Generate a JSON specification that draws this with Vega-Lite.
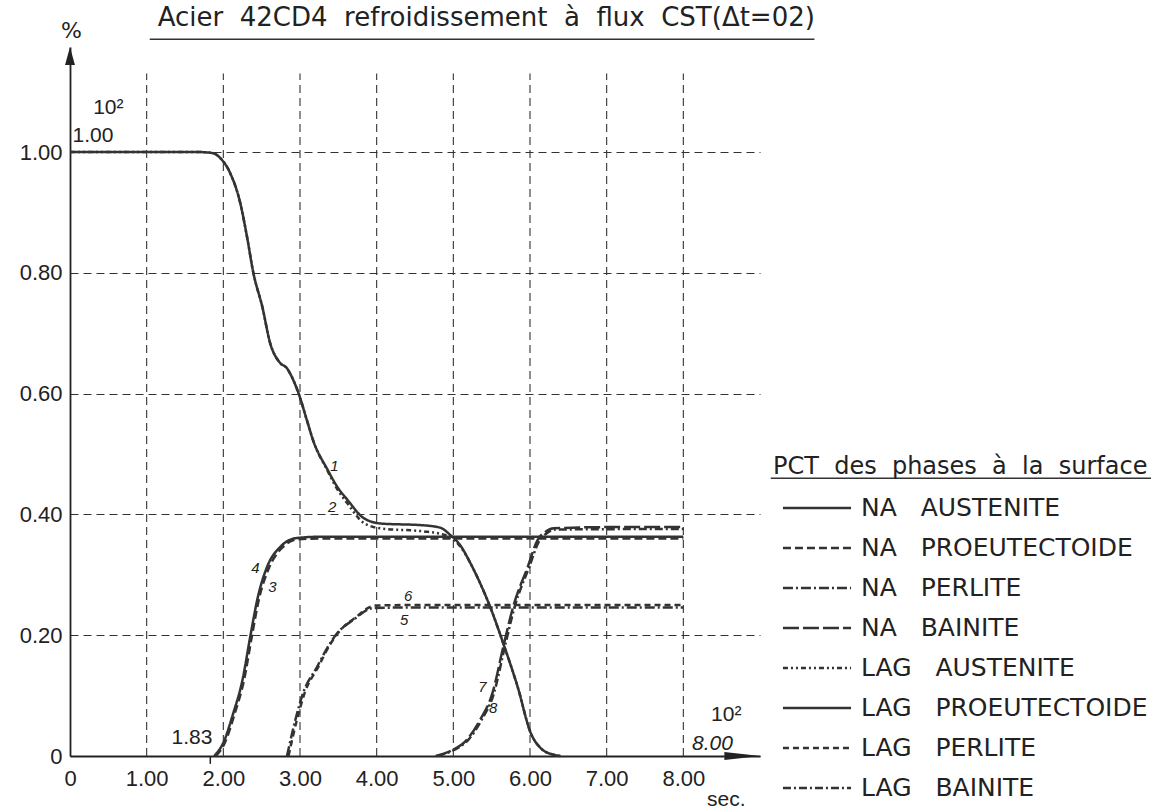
{
  "$schema": "https://vega.github.io/schema/vega-lite/v6.json",
  "width": 690,
  "height": 709,
  "autosize": {"type": "none"},
  "padding": {"left": 70, "top": 47, "right": 405, "bottom": 55},
  "background": "white",
  "config": {
    "view": {"stroke": null},
    "font": "Liberation Sans",
    "text": {"color": "#222"}
  },
  "datasets": {
    "curves": [
      {"series": "NA AUSTENITE", "t": 0, "p": 1.0},
      {"series": "NA AUSTENITE", "t": 1.0, "p": 1.0},
      {"series": "NA AUSTENITE", "t": 1.7, "p": 1.0},
      {"series": "NA AUSTENITE", "t": 1.87, "p": 0.998},
      {"series": "NA AUSTENITE", "t": 1.96, "p": 0.99},
      {"series": "NA AUSTENITE", "t": 2.09, "p": 0.965},
      {"series": "NA AUSTENITE", "t": 2.22, "p": 0.916},
      {"series": "NA AUSTENITE", "t": 2.31, "p": 0.859},
      {"series": "NA AUSTENITE", "t": 2.39, "p": 0.801},
      {"series": "NA AUSTENITE", "t": 2.51, "p": 0.743},
      {"series": "NA AUSTENITE", "t": 2.61, "p": 0.684},
      {"series": "NA AUSTENITE", "t": 2.74, "p": 0.651},
      {"series": "NA AUSTENITE", "t": 2.83, "p": 0.642},
      {"series": "NA AUSTENITE", "t": 2.9, "p": 0.626},
      {"series": "NA AUSTENITE", "t": 2.98, "p": 0.601},
      {"series": "NA AUSTENITE", "t": 3.09, "p": 0.556},
      {"series": "NA AUSTENITE", "t": 3.17, "p": 0.523},
      {"series": "NA AUSTENITE", "t": 3.36, "p": 0.474},
      {"series": "NA AUSTENITE", "t": 3.49, "p": 0.445},
      {"series": "NA AUSTENITE", "t": 3.62, "p": 0.424},
      {"series": "NA AUSTENITE", "t": 3.83, "p": 0.394},
      {"series": "NA AUSTENITE", "t": 4.05, "p": 0.385},
      {"series": "NA AUSTENITE", "t": 4.61, "p": 0.382},
      {"series": "NA AUSTENITE", "t": 4.83, "p": 0.378},
      {"series": "NA AUSTENITE", "t": 4.96, "p": 0.366},
      {"series": "NA AUSTENITE", "t": 5.09, "p": 0.349},
      {"series": "NA AUSTENITE", "t": 5.22, "p": 0.32},
      {"series": "NA AUSTENITE", "t": 5.35, "p": 0.286},
      {"series": "NA AUSTENITE", "t": 5.48, "p": 0.247},
      {"series": "NA AUSTENITE", "t": 5.65, "p": 0.187},
      {"series": "NA AUSTENITE", "t": 5.84, "p": 0.114},
      {"series": "NA AUSTENITE", "t": 6.01, "p": 0.038},
      {"series": "NA AUSTENITE", "t": 6.14, "p": 0.013},
      {"series": "NA AUSTENITE", "t": 6.31, "p": 0.002},
      {"series": "NA AUSTENITE", "t": 6.4, "p": 0},

      {"series": "LAG AUSTENITE", "t": 0, "p": 1.0},
      {"series": "LAG AUSTENITE", "t": 1.0, "p": 1.0},
      {"series": "LAG AUSTENITE", "t": 1.7, "p": 1.0},
      {"series": "LAG AUSTENITE", "t": 1.87, "p": 0.998},
      {"series": "LAG AUSTENITE", "t": 1.96, "p": 0.99},
      {"series": "LAG AUSTENITE", "t": 2.09, "p": 0.965},
      {"series": "LAG AUSTENITE", "t": 2.22, "p": 0.916},
      {"series": "LAG AUSTENITE", "t": 2.31, "p": 0.859},
      {"series": "LAG AUSTENITE", "t": 2.39, "p": 0.801},
      {"series": "LAG AUSTENITE", "t": 2.51, "p": 0.743},
      {"series": "LAG AUSTENITE", "t": 2.61, "p": 0.684},
      {"series": "LAG AUSTENITE", "t": 2.74, "p": 0.651},
      {"series": "LAG AUSTENITE", "t": 2.83, "p": 0.642},
      {"series": "LAG AUSTENITE", "t": 2.9, "p": 0.626},
      {"series": "LAG AUSTENITE", "t": 2.98, "p": 0.601},
      {"series": "LAG AUSTENITE", "t": 3.09, "p": 0.556},
      {"series": "LAG AUSTENITE", "t": 3.17, "p": 0.523},
      {"series": "LAG AUSTENITE", "t": 3.36, "p": 0.472},
      {"series": "LAG AUSTENITE", "t": 3.49, "p": 0.441},
      {"series": "LAG AUSTENITE", "t": 3.62, "p": 0.418},
      {"series": "LAG AUSTENITE", "t": 3.83, "p": 0.386},
      {"series": "LAG AUSTENITE", "t": 4.05, "p": 0.377},
      {"series": "LAG AUSTENITE", "t": 4.61, "p": 0.372},
      {"series": "LAG AUSTENITE", "t": 4.83, "p": 0.368},
      {"series": "LAG AUSTENITE", "t": 4.96, "p": 0.362},
      {"series": "LAG AUSTENITE", "t": 5.09, "p": 0.347},
      {"series": "LAG AUSTENITE", "t": 5.22, "p": 0.32},
      {"series": "LAG AUSTENITE", "t": 5.35, "p": 0.286},
      {"series": "LAG AUSTENITE", "t": 5.48, "p": 0.247},
      {"series": "LAG AUSTENITE", "t": 5.65, "p": 0.187},
      {"series": "LAG AUSTENITE", "t": 5.84, "p": 0.114},
      {"series": "LAG AUSTENITE", "t": 6.01, "p": 0.038},
      {"series": "LAG AUSTENITE", "t": 6.14, "p": 0.013},
      {"series": "LAG AUSTENITE", "t": 6.31, "p": 0.002},
      {"series": "LAG AUSTENITE", "t": 6.4, "p": 0},

      {"series": "NA PROEUTECTOIDE", "t": 1.9, "p": 0},
      {"series": "NA PROEUTECTOIDE", "t": 2.02, "p": 0.022},
      {"series": "NA PROEUTECTOIDE", "t": 2.15, "p": 0.071},
      {"series": "NA PROEUTECTOIDE", "t": 2.27, "p": 0.126},
      {"series": "NA PROEUTECTOIDE", "t": 2.37, "p": 0.197},
      {"series": "NA PROEUTECTOIDE", "t": 2.47, "p": 0.263},
      {"series": "NA PROEUTECTOIDE", "t": 2.59, "p": 0.31},
      {"series": "NA PROEUTECTOIDE", "t": 2.76, "p": 0.344},
      {"series": "NA PROEUTECTOIDE", "t": 2.98, "p": 0.359},
      {"series": "NA PROEUTECTOIDE", "t": 3.3, "p": 0.36},
      {"series": "NA PROEUTECTOIDE", "t": 8.0, "p": 0.36},

      {"series": "LAG PROEUTECTOIDE", "t": 1.88, "p": 0},
      {"series": "LAG PROEUTECTOIDE", "t": 2.0, "p": 0.022},
      {"series": "LAG PROEUTECTOIDE", "t": 2.13, "p": 0.071},
      {"series": "LAG PROEUTECTOIDE", "t": 2.25, "p": 0.126},
      {"series": "LAG PROEUTECTOIDE", "t": 2.35, "p": 0.197},
      {"series": "LAG PROEUTECTOIDE", "t": 2.45, "p": 0.263},
      {"series": "LAG PROEUTECTOIDE", "t": 2.57, "p": 0.313},
      {"series": "LAG PROEUTECTOIDE", "t": 2.74, "p": 0.346},
      {"series": "LAG PROEUTECTOIDE", "t": 2.96, "p": 0.361},
      {"series": "LAG PROEUTECTOIDE", "t": 3.26, "p": 0.363},
      {"series": "LAG PROEUTECTOIDE", "t": 8.0, "p": 0.363},

      {"series": "NA PERLITE", "t": 2.83, "p": 0},
      {"series": "NA PERLITE", "t": 2.94, "p": 0.06},
      {"series": "NA PERLITE", "t": 3.04, "p": 0.104},
      {"series": "NA PERLITE", "t": 3.22, "p": 0.147},
      {"series": "NA PERLITE", "t": 3.36, "p": 0.18},
      {"series": "NA PERLITE", "t": 3.49, "p": 0.204},
      {"series": "NA PERLITE", "t": 3.69, "p": 0.225},
      {"series": "NA PERLITE", "t": 3.96, "p": 0.245},
      {"series": "NA PERLITE", "t": 4.5, "p": 0.246},
      {"series": "NA PERLITE", "t": 8.0, "p": 0.246},

      {"series": "LAG PERLITE", "t": 2.85, "p": 0},
      {"series": "LAG PERLITE", "t": 2.96, "p": 0.06},
      {"series": "LAG PERLITE", "t": 3.06, "p": 0.104},
      {"series": "LAG PERLITE", "t": 3.24, "p": 0.148},
      {"series": "LAG PERLITE", "t": 3.38, "p": 0.182},
      {"series": "LAG PERLITE", "t": 3.51, "p": 0.206},
      {"series": "LAG PERLITE", "t": 3.71, "p": 0.228},
      {"series": "LAG PERLITE", "t": 3.98, "p": 0.249},
      {"series": "LAG PERLITE", "t": 4.5, "p": 0.25},
      {"series": "LAG PERLITE", "t": 8.0, "p": 0.25},

      {"series": "NA BAINITE", "t": 4.77, "p": 0},
      {"series": "NA BAINITE", "t": 4.99, "p": 0.01},
      {"series": "NA BAINITE", "t": 5.17, "p": 0.026},
      {"series": "NA BAINITE", "t": 5.35, "p": 0.06},
      {"series": "NA BAINITE", "t": 5.51, "p": 0.104},
      {"series": "NA BAINITE", "t": 5.65, "p": 0.18},
      {"series": "NA BAINITE", "t": 5.78, "p": 0.247},
      {"series": "NA BAINITE", "t": 5.97, "p": 0.313},
      {"series": "NA BAINITE", "t": 6.1, "p": 0.358},
      {"series": "NA BAINITE", "t": 6.2, "p": 0.371},
      {"series": "NA BAINITE", "t": 6.31, "p": 0.377},
      {"series": "NA BAINITE", "t": 7.0, "p": 0.379},
      {"series": "NA BAINITE", "t": 8.0, "p": 0.379},

      {"series": "LAG BAINITE", "t": 4.79, "p": 0},
      {"series": "LAG BAINITE", "t": 5.01, "p": 0.01},
      {"series": "LAG BAINITE", "t": 5.19, "p": 0.026},
      {"series": "LAG BAINITE", "t": 5.37, "p": 0.06},
      {"series": "LAG BAINITE", "t": 5.53, "p": 0.104},
      {"series": "LAG BAINITE", "t": 5.67, "p": 0.18},
      {"series": "LAG BAINITE", "t": 5.8, "p": 0.247},
      {"series": "LAG BAINITE", "t": 5.99, "p": 0.313},
      {"series": "LAG BAINITE", "t": 6.12, "p": 0.356},
      {"series": "LAG BAINITE", "t": 6.22, "p": 0.369},
      {"series": "LAG BAINITE", "t": 6.33, "p": 0.375},
      {"series": "LAG BAINITE", "t": 8.0, "p": 0.376}
    ],
    "grid": [{"t": 1}, {"t": 2}, {"t": 3}, {"t": 4}, {"t": 5}, {"t": 6}, {"t": 7}, {"t": 8}],
    "curveLabels": [
      {"lab": "1", "t": 3.45, "p": 0.48},
      {"lab": "2", "t": 3.42, "p": 0.412},
      {"lab": "4", "t": 2.42, "p": 0.311},
      {"lab": "3", "t": 2.64, "p": 0.28},
      {"lab": "6", "t": 4.41, "p": 0.265},
      {"lab": "5", "t": 4.36, "p": 0.225},
      {"lab": "7", "t": 5.38, "p": 0.114},
      {"lab": "8", "t": 5.52, "p": 0.079}
    ],
    "notes": [
      {"txt": "10²", "t": 0.5, "p": 1.073},
      {"txt": "1.00", "t": 0.3, "p": 1.027},
      {"txt": "1.83", "t": 1.59, "p": 0.03},
      {"txt": "10²", "t": 8.56, "p": 0.068},
      {"txt": "sec.", "t": 8.56, "p": -0.073}
    ]
  },
  "layer": [
    {
      "data": {"name": "grid"},
      "mark": {"type": "rule", "strokeDash": [8, 5], "color": "#333", "strokeWidth": 1.1},
      "encoding": {
        "x": {"field": "t", "type": "quantitative", "title": null},
        "y": {"datum": 0, "type": "quantitative", "title": null},
        "y2": {"datum": 1.13}
      }
    },
    {
      "data": {"name": "curves"},
      "mark": {"type": "line", "interpolate": "monotone", "color": "#333", "strokeWidth": 2.5},
      "encoding": {
        "x": {
          "field": "t", "type": "quantitative", "title": null,
          "scale": {"domain": [0, 9], "nice": false, "zero": true},
          "axis": {
            "values": [0, 1, 2, 3, 4, 5, 6, 7, 8],
            "labelExpr": "datum.value == 0 ? '0' : format(datum.value, '.2f')",
            "grid": false, "ticks": false, "tickSize": 0,
            "domainColor": "#222", "domainWidth": 1.8,
            "labelFontSize": 22, "labelColor": "#222", "labelPadding": 12,
            "labelFont": "Liberation Sans", "labelFlush": false, "labelOverlap": false
          }
        },
        "y": {
          "field": "p", "type": "quantitative", "title": null,
          "scale": {"domain": [0, 1.174], "nice": false, "zero": true},
          "axis": {
            "values": [0, 0.2, 0.4, 0.6, 0.8, 1.0],
            "labelExpr": "datum.value == 0 ? '0' : format(datum.value, '.2f')",
            "grid": true, "gridDash": [8, 5], "gridColor": "#333", "gridWidth": 1.1,
            "ticks": false, "tickSize": 0,
            "domainColor": "#222", "domainWidth": 1.8,
            "labelFontSize": 22, "labelColor": "#222", "labelPadding": 8,
            "labelFont": "Liberation Sans", "labelFlush": false, "labelOverlap": false
          }
        },
        "strokeDash": {
          "field": "series", "type": "nominal",
          "scale": {
            "domain": ["NA AUSTENITE", "NA PROEUTECTOIDE", "NA PERLITE", "NA BAINITE", "LAG AUSTENITE", "LAG PROEUTECTOIDE", "LAG PERLITE", "LAG BAINITE"],
            "range": [[1, 0], [8, 4], [10, 3, 2, 3], [16, 4], [5, 3, 2, 3, 2, 3], [1, 0], [6, 4], [8, 3, 2, 3]]
          },
          "legend": {
            "orient": "none", "legendX": 703, "legendY": 408,
            "title": "PCT\u00a0 des\u00a0 phases\u00a0 à\u00a0 la\u00a0 surface",
            "titleFont": "DejaVu Sans", "titleFontSize": 24, "titleFontWeight": "normal",
            "titleColor": "#222", "titlePadding": 2, "titleLimit": 600,
            "labelFont": "DejaVu Sans", "labelFontSize": 25, "labelColor": "#222",
            "labelExpr": "replace(datum.label, ' ', '\u00a0\u00a0\u00a0')",
            "labelLimit": 600, "labelOffset": 17,
            "symbolType": "M-1.33,0H1.33", "symbolSize": 2620, "symbolStrokeWidth": 2.5,
            "symbolStrokeColor": "#333", "symbolOffset": 17, "rowPadding": 0, "padding": 0
          }
        }
      }
    },
    {
      "data": {"name": "curveLabels"},
      "mark": {"type": "text", "fontSize": 15, "fontStyle": "italic", "font": "Liberation Sans", "color": "#222"},
      "encoding": {
        "x": {"field": "t", "type": "quantitative", "title": null},
        "y": {"field": "p", "type": "quantitative", "title": null},
        "text": {"field": "lab"}
      }
    },
    {
      "data": {"name": "notes"},
      "mark": {"type": "text", "fontSize": 21, "font": "Liberation Sans", "color": "#222"},
      "encoding": {
        "x": {"field": "t", "type": "quantitative", "title": null},
        "y": {"field": "p", "type": "quantitative", "title": null},
        "text": {"field": "txt"}
      }
    },
    {
      "data": {"values": [{}]},
      "mark": {"type": "text", "fontSize": 21, "fontStyle": "italic", "font": "Liberation Sans", "color": "#222"},
      "encoding": {
        "x": {"datum": 8.38, "type": "quantitative"},
        "y": {"datum": 0.02, "type": "quantitative"},
        "text": {"value": "8.00"}
      }
    },
    {
      "data": {"values": [{}]},
      "mark": {"type": "text", "fontSize": 22, "font": "DejaVu Sans", "color": "#222"},
      "encoding": {
        "x": {"datum": 0.02, "type": "quantitative"},
        "y": {"datum": 1.2, "type": "quantitative"},
        "text": {"value": "%"}
      }
    },
    {
      "data": {"values": [{}]},
      "mark": {"type": "text", "fontSize": 26, "font": "DejaVu Sans", "color": "#222"},
      "encoding": {
        "x": {"datum": 5.43, "type": "quantitative"},
        "y": {"datum": 1.222, "type": "quantitative"},
        "text": {"value": "Acier\u00a0 42CD4\u00a0 refroidissement\u00a0 à\u00a0 flux\u00a0 CST(Δt=02)"}
      }
    },
    {
      "data": {"values": [{}]},
      "mark": {"type": "rule", "color": "#333", "strokeWidth": 1.5},
      "encoding": {
        "x": {"datum": 1.04, "type": "quantitative"},
        "x2": {"datum": 9.71},
        "y": {"datum": 1.187, "type": "quantitative"}
      }
    },
    {
      "data": {"values": [{}]},
      "mark": {"type": "rule", "color": "#333", "strokeWidth": 1.5},
      "encoding": {
        "x": {"datum": 9.14, "type": "quantitative"},
        "x2": {"datum": 14.1},
        "y": {"datum": 0.46, "type": "quantitative"}
      }
    },
    {
      "data": {"values": [{}]},
      "mark": {"type": "rule", "color": "#222", "strokeWidth": 1.5},
      "encoding": {
        "x": {"datum": 1.83, "type": "quantitative"},
        "y": {"datum": 0, "type": "quantitative"},
        "y2": {"datum": -0.013}
      }
    },
    {
      "data": {"values": [{}]},
      "mark": {"type": "point", "shape": "M0,-1L0.55,1L-0.55,1Z", "size": 324, "filled": true, "color": "#222", "opacity": 1},
      "encoding": {
        "x": {"datum": 0, "type": "quantitative"},
        "y": {"datum": 1.159, "type": "quantitative"}
      }
    },
    {
      "data": {"values": [{}]},
      "mark": {"type": "point", "shape": "M-1,-0.22L1,0L-1,0.22Z", "size": 1296, "filled": true, "color": "#222", "opacity": 1},
      "encoding": {
        "x": {"datum": 8.77, "type": "quantitative"},
        "y": {"datum": 0, "type": "quantitative"}
      }
    }
  ]
}
